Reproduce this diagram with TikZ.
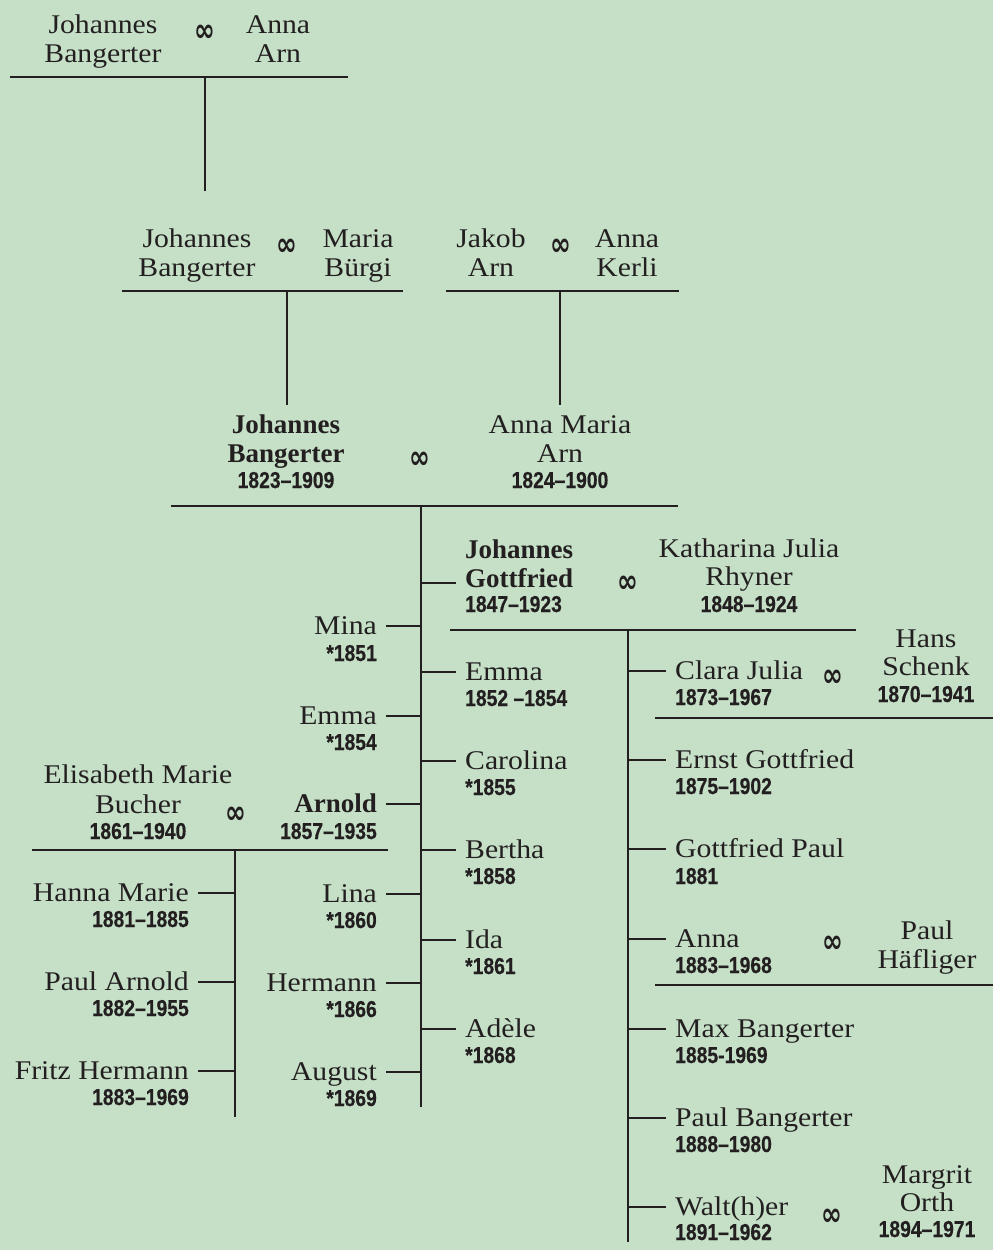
\documentclass[tikz,border=0pt]{standalone}
\usepackage{graphicx}
\usepackage{fontspec}
\usetikzlibrary{calc}
\newfontfamily\persfam{Liberation Serif}[FakeStretch=1.1]
\newfontfamily\bpersfam{Liberation Serif}
\newfontfamily\yrsfam{Liberation Sans}[FakeStretch=0.84, FakeBold=0.4]
\newfontfamily\wedfam{DejaVu Sans}
\definecolor{bg}{HTML}{C5E0C7}
\definecolor{ink}{HTML}{231F20}
\newcommand\wedsym{\scalebox{1}[1.3]{∞}}
\tikzset{
  pers/.style={font=\persfam\fontsize{27}{29}\selectfont, text=ink, inner sep=0pt, text height=17pt, text depth=0pt},
  bpers/.style={pers, font=\bpersfam\bfseries\fontsize{27}{29}\selectfont},
  yrs/.style={font=\yrsfam\bfseries\fontsize{23}{24}\selectfont, text=ink, inner sep=0pt},
  kid/.style={inner xsep=9pt},
  wed/.style={font=\wedfam\bfseries\fontsize{25}{26}\selectfont, text=ink, inner sep=0pt},
  tree/.style={draw=ink, line width=1.2pt}
}

\begin{document}
\begin{tikzpicture}[x=1pt, y=-1pt]
  \useasboundingbox (0,0) rectangle (993,1250);
  \fill[bg] (0,0) rectangle (993,1250);

  % first couple
  \node[pers, anchor=base] (jb1a) at (103,33) {Johannes};
  \node[pers, anchor=base] (jb1b) at (103,62) {Bangerter};
  \node[wed] (w1) at (205,33) {\wedsym};
  \node[pers, anchor=base] (aa1a) at (278,33) {Anna};
  \node[pers, anchor=base] (aa1b) at (278,62) {Arn};
  \coordinate (c1) at (205,77);
  \draw[tree] (c1) +(-195,0) -- +(143,0);
  \draw[tree] (c1) -- ++(0,114);

  % second row
  \node[pers, anchor=base] (jb2a) at (197,247) {Johannes};
  \node[pers, anchor=base] (jb2b) at (197,276) {Bangerter};
  \node[wed] (w2) at (287,247) {\wedsym};
  \node[pers, anchor=base] (mb2a) at (358,247) {Maria};
  \node[pers, anchor=base] (mb2b) at (358,276) {Bürgi};
  \coordinate (c2) at (287,291);
  \draw[tree] (c2) +(-165,0) -- +(116,0);
  \draw[tree] (c2) -- ++(0,114);

  \node[pers, anchor=base] (ja2a) at (491,247) {Jakob};
  \node[pers, anchor=base] (ja2b) at (491,276) {Arn};
  \node[wed] (w3) at (561,247) {\wedsym};
  \node[pers, anchor=base] (ak2a) at (627,247) {Anna};
  \node[pers, anchor=base] (ak2b) at (627,276) {Kerli};
  \coordinate (c3) at (560,291);
  \draw[tree] (c3) +(-114,0) -- +(119,0);
  \draw[tree] (c3) -- ++(0,114);

  % main couple
  \node[bpers, anchor=base] (jb3a) at (286,433) {Johannes};
  \node[bpers, anchor=base] (jb3b) at (286,462) {Bangerter};
  \node[yrs, anchor=base] (jb3y) at (286,488) {1823–1909};
  \node[wed] (w4) at (420,460) {\wedsym};
  \node[pers, anchor=base] (am3a) at (560,433) {Anna Maria};
  \node[pers, anchor=base] (am3b) at (560,462) {Arn};
  \node[yrs, anchor=base] (am3y) at (560,488) {1824–1900};
  \coordinate (c4) at (421,506);
  \draw[tree] (c4) +(-250,0) -- +(257,0);
  \draw[tree] (c4) -- ++(0,601);

  % children, right side
  \node[bpers, kid, anchor=base west] (jg-a) at (456,558) {Johannes};
  \node[bpers, kid, anchor=base west] (jg-b) at (456,587) {Gottfried};
  \node[yrs, kid, anchor=base west] (jg-y) at (456,612) {1847–1923};
  \coordinate (jg-t) at (456,583);
  \node[pers, kid, anchor=base west] (emma2) at (456,680.5) {Emma};
  \node[yrs, kid, anchor=base west] (emma2-y) at (456,706) {1852 –1854};
  \node[pers, kid, anchor=base west] (carol) at (456,769.5) {Carolina};
  \node[yrs, kid, anchor=base west] (carol-y) at (456,795) {*1855};
  \node[pers, kid, anchor=base west] (bertha) at (456,858.5) {Bertha};
  \node[yrs, kid, anchor=base west] (bertha-y) at (456,884) {*1858};
  \node[pers, kid, anchor=base west] (ida) at (456,948.5) {Ida};
  \node[yrs, kid, anchor=base west] (ida-y) at (456,974) {*1861};
  \node[pers, kid, anchor=base west] (adele) at (456,1037.5) {Adèle};
  \node[yrs, kid, anchor=base west] (adele-y) at (456,1063) {*1868};

  % children, left side
  \node[pers, kid, anchor=base east] (mina) at (386,634.5) {Mina};
  \node[yrs, kid, anchor=base east] (mina-y) at (386,661) {*1851};
  \node[pers, kid, anchor=base east] (emma1) at (386,724.5) {Emma};
  \node[yrs, kid, anchor=base east] (emma1-y) at (386,750) {*1854};
  \node[bpers, kid, anchor=base east] (arnold) at (386,812.5) {Arnold};
  \node[yrs, kid, anchor=base east] (arnold-y) at (386,839) {1857–1935};
  \node[pers, kid, anchor=base east] (lina) at (386,902.5) {Lina};
  \node[yrs, kid, anchor=base east] (lina-y) at (386,928) {*1860};
  \node[pers, kid, anchor=base east] (hermann) at (386,991.5) {Hermann};
  \node[yrs, kid, anchor=base east] (hermann-y) at (386,1017) {*1866};
  \node[pers, kid, anchor=base east] (august) at (386,1080.5) {August};
  \node[yrs, kid, anchor=base east] (august-y) at (386,1106) {*1869};

  \draw[tree] (c4 |- jg-t) -- (jg-t)
    (c4 |- emma2.west) -- (emma2.west) (c4 |- carol.west) -- (carol.west)
    (c4 |- bertha.west) -- (bertha.west) (c4 |- ida.west) -- (ida.west)
    (c4 |- adele.west) -- (adele.west);
  \draw[tree] (c4 |- mina.east) -- (mina.east) (c4 |- emma1.east) -- (emma1.east)
    (c4 |- arnold.east) -- (arnold.east) (c4 |- lina.east) -- (lina.east)
    (c4 |- hermann.east) -- (hermann.east) (c4 |- august.east) -- (august.east);

  % Arnold
  \node[pers, anchor=base] (eb-a) at (138,783) {Elisabeth Marie};
  \node[pers, anchor=base] (eb-b) at (138,813) {Bucher};
  \node[yrs, anchor=base] (eb-y) at (138,839) {1861–1940};
  \node[wed] (w5) at (236,815) {\wedsym};
  \coordinate (c5) at (235,850);
  \draw[tree] (c5) +(-203,0) -- +(153,0);
  \draw[tree] (c5) -- ++(0,267);

  \node[pers, kid, anchor=base east] (hanna) at (198,901.5) {Hanna Marie};
  \node[yrs, kid, anchor=base east] (hanna-y) at (198,927) {1881–1885};
  \node[pers, kid, anchor=base east] (paula) at (198,990.5) {Paul Arnold};
  \node[yrs, kid, anchor=base east] (paula-y) at (198,1016) {1882–1955};
  \node[pers, kid, anchor=base east] (fritz) at (198,1079.5) {Fritz Hermann};
  \node[yrs, kid, anchor=base east] (fritz-y) at (198,1105) {1883–1969};
  \draw[tree] (c5 |- hanna.east) -- (hanna.east) (c5 |- paula.east) -- (paula.east)
    (c5 |- fritz.east) -- (fritz.east);

  % Johannes Gottfried
  \node[wed] (w6) at (628,584) {\wedsym};
  \node[pers, anchor=base] (kr-a) at (749,557) {Katharina Julia};
  \node[pers, anchor=base] (kr-b) at (749,585) {Rhyner};
  \node[yrs, anchor=base] (kr-y) at (749,612) {1848–1924};
  \coordinate (c6) at (628,630);
  \draw[tree] (c6) +(-178,0) -- +(228,0);
  \draw[tree] (c6) -- ++(0,612);

  \node[pers, kid, anchor=base west] (clara) at (666,679.5) {Clara Julia};
  \node[yrs, kid, anchor=base west] (clara-y) at (666,705) {1873–1967};
  \node[pers, kid, anchor=base west] (ernst) at (666,768.5) {Ernst Gottfried};
  \node[yrs, kid, anchor=base west] (ernst-y) at (666,794) {1875–1902};
  \node[pers, kid, anchor=base west] (gpaul) at (666,857.5) {Gottfried Paul};
  \node[yrs, kid, anchor=base west] (gpaul-y) at (666,884) {1881};
  \node[pers, kid, anchor=base west] (anna) at (666,947.5) {Anna};
  \node[yrs, kid, anchor=base west] (anna-y) at (666,973) {1883–1968};
  \node[pers, kid, anchor=base west] (max) at (666,1037.5) {Max Bangerter};
  \node[yrs, kid, anchor=base west] (max-y) at (666,1063) {1885-1969};
  \node[pers, kid, anchor=base west] (pbang) at (666,1126.5) {Paul Bangerter};
  \node[yrs, kid, anchor=base west] (pbang-y) at (666,1152) {1888–1980};
  \node[pers, kid, anchor=base west] (walter) at (666,1215.5) {Walt(h)er};
  \node[yrs, kid, anchor=base west] (walter-y) at (666,1240) {1891–1962};
  \draw[tree] (c6 |- clara.west) -- (clara.west) (c6 |- ernst.west) -- (ernst.west)
    (c6 |- gpaul.west) -- (gpaul.west) (c6 |- anna.west) -- (anna.west)
    (c6 |- max.west) -- (max.west) (c6 |- pbang.west) -- (pbang.west)
    (c6 |- walter.west) -- (walter.west);

  % grandchildren's spouses
  \node[wed] (w7) at (833,678) {\wedsym};
  \node[pers, anchor=base] (hs-a) at (926,647) {Hans};
  \node[pers, anchor=base] (hs-b) at (926,675) {Schenk};
  \node[yrs, anchor=base] (hs-y) at (926,702) {1870–1941};
  \coordinate (c7) at (655,718);
  \draw[tree] (c7) -- ++(338,0);

  \node[wed] (w8) at (833,944) {\wedsym};
  \node[pers, anchor=base] (ph-a) at (927,939) {Paul};
  \node[pers, anchor=base] (ph-b) at (927,968) {Häfliger};
  \coordinate (c8) at (655,985);
  \draw[tree] (c8) -- ++(338,0);

  \node[wed] (w9) at (832,1217) {\wedsym};
  \node[pers, anchor=base] (mo-a) at (927,1183) {Margrit};
  \node[pers, anchor=base] (mo-b) at (927,1211) {Orth};
  \node[yrs, anchor=base] (mo-y) at (927,1237) {1894–1971};
\end{tikzpicture}
\end{document}
